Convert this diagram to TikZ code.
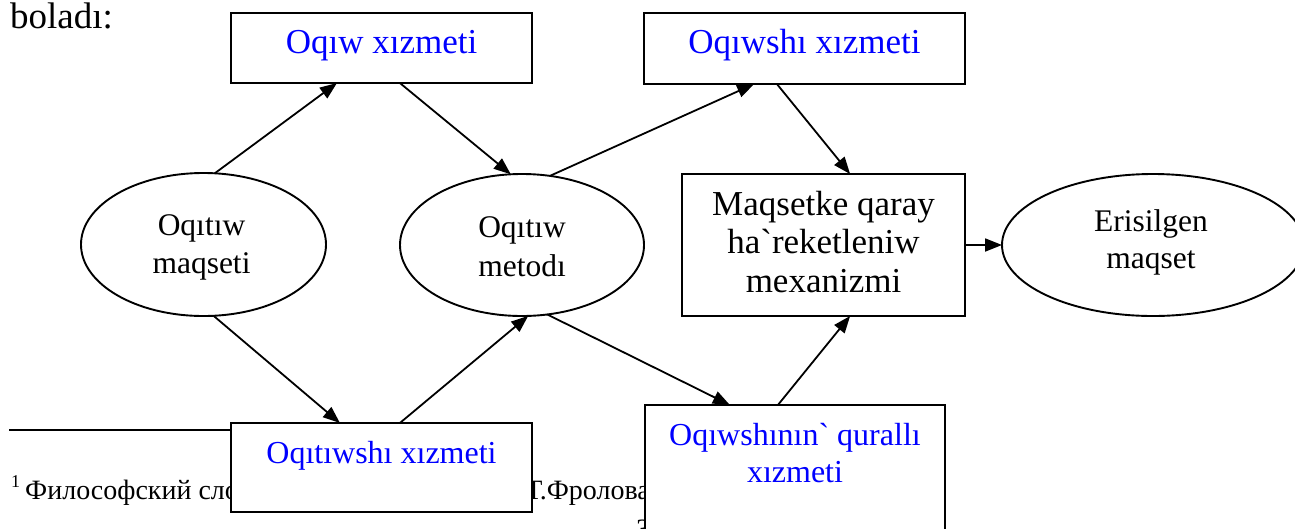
\documentclass[tikz,border=0pt]{standalone}
\usepackage{fontspec}
\setmainfont{Liberation Serif}[Ligatures=TeXOff]
\usetikzlibrary{arrows.meta,shapes.geometric,calc}
\definecolor{txtblue}{RGB}{0,0,255}
\begin{document}
\begin{tikzpicture}[x=1pt,y=-1pt,
  box/.style={draw,line width=1.9pt,fill=white,rectangle,inner sep=0pt,outer sep=0pt},
  oval/.style={draw,line width=1.9pt,fill=white,ellipse,inner sep=0pt,outer sep=0pt},
  conn/.style={line width=1.8pt,-{Triangle[length=17pt,width=13pt]}},
  blk/.style={anchor=base,inner sep=0pt,font=\fontsize{31.5}{38}\selectfont},
  blkbig/.style={anchor=base,inner sep=0pt,font=\fontsize{35}{40}\selectfont},
  bluebig/.style={anchor=base,inner sep=0pt,text=txtblue,font=\fontsize{35}{40}\selectfont},
  bluesm/.style={anchor=base,inner sep=0pt,text=txtblue,font=\fontsize{32}{38}\selectfont},
  foot/.style={inner sep=0pt,font=\fontsize{28}{30}\selectfont}
]
\useasboundingbox (0,0) rectangle (1295,528);
\clip (0,0) rectangle (1295,528);

% text above and footnote (partly covered by boxes)
\node[anchor=base west,inner sep=0pt,font=\fontsize{37}{40}\selectfont] (bol) at (10,28) {boladı:};
\coordinate (ruleA) at (9,430);
\coordinate (ruleB) at (240,430);
\draw[line width=1.8pt] (ruleA) -- (ruleB);
\node[anchor=base west,inner sep=0pt,font=\fontsize{18}{20}\selectfont] (fnmark) at (11,487) {1};
\node[foot,anchor=base west] (fn1) at (25,499) {Философский словарь};
\node[foot,anchor=base east] (fn2) at (650,499) {И.Т.Фролова};
\node[foot,anchor=base west] (pg) at (636,538) {3};

% shapes
\node[box,minimum width=301pt,minimum height=70pt] (b1) at (381.5,48) {};
\node[box,minimum width=321pt,minimum height=71pt] (b2) at (804.5,48.5) {};
\node[oval,minimum width=245pt,minimum height=143pt] (e1) at (203.5,244.5) {};
\node[oval,minimum width=244pt,minimum height=142pt] (e2) at (522,245) {};
\node[box,minimum width=283pt,minimum height=142pt] (m) at (823.5,245) {};
\node[oval,minimum width=302pt,minimum height=142pt] (e3) at (1153,245) {};
\node[box,minimum width=301pt,minimum height=89pt] (b3) at (381.5,467.5) {};
\node[box,minimum width=300pt,minimum height=155pt] (b4) at (795,482.5) {};

% labels
\node[bluebig] (t1) at (381.5,53) {Oqıw xızmeti};
\node[bluebig] (t2) at (804.5,53) {Oqıwshı xızmeti};
\node[blk] (t3a) at (201.5,235) {Oqıtıw};
\node[blk] (t3b) at (201.5,273) {maqseti};
\node[blk] (t4a) at (522,237) {Oqıtıw};
\node[blk] (t4b) at (522,276) {metodı};
\node[blkbig] (t5a) at (823.5,215) {Maqsetke qaray};
\node[blkbig] (t5b) at (823.5,253) {ha`reketleniw};
\node[blkbig] (t5c) at (823.5,292) {mexanizmi};
\node[blk] (t6a) at (1151,231) {Erisilgen};
\node[blk] (t6b) at (1151,268) {maqset};
\node[bluesm] (t7) at (381.5,463) {Oqıtıwshı xızmeti};
\node[bluesm] (t8a) at (795,445) {Oqıwshının` qurallı};
\node[bluesm] (t8b) at (795,482) {xızmeti};

% connectors
\draw[conn] (e1.81) -- ($(b1.south west)!0.352!(b1.south east)$);
\draw[conn] ($(b1.south west)!0.561!(b1.south east)$) -- (e2.99);
\draw[conn] (e2.68) -- ($(b2.south west)!0.343!(b2.south east)$);
\draw[conn] ($(b2.south west)!0.414!(b2.south east)$) -- ($(m.north west)!0.594!(m.north east)$);
\draw[conn] (m.east) -- (e3.west);
\draw[conn] (e1.-82) -- ($(b3.north west)!0.362!(b3.north east)$);
\draw[conn] ($(b3.north west)!0.561!(b3.north east)$) -- (e2.-85);
\draw[conn] (e2.-70) -- ($(b4.north west)!0.283!(b4.north east)$);
\draw[conn] ($(b4.north west)!0.443!(b4.north east)$) -- ($(m.south west)!0.594!(m.south east)$);
\end{tikzpicture}
\end{document}
